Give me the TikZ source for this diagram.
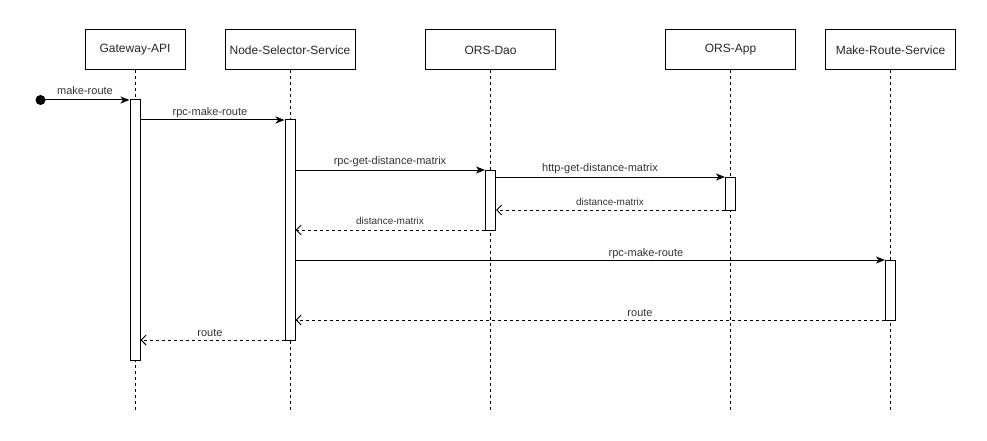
\documentclass[tikz,border=0pt]{standalone}
\usepackage{fontspec}
\setmainfont{Liberation Sans}
\usetikzlibrary{arrows.meta}
\begin{document}
\begin{tikzpicture}[x=1pt,y=-1pt,
  participant/.style={draw,line width=1pt,minimum height=40pt,inner sep=0pt,font=\fontsize{12}{14}\selectfont,text=black!85},
  actbox/.style={draw,line width=1pt,fill=white,minimum width=10pt,inner sep=0pt},
  lifeline/.style={line width=0.9pt,dash pattern=on 3pt off 3pt},
  callmsg/.style={line width=1pt,-{Stealth[length=9pt,width=7pt,inset=2.5pt]}},
  retmsg/.style={line width=0.9pt,dash pattern=on 3pt off 3pt,-{Straight Barb[length=5pt,width=10pt]}},
  msglbl/.style={font=\fontsize{11}{13}\selectfont,text=black!80},
  smalllbl/.style={font=\fontsize{10}{12}\selectfont,text=black!80}]
\useasboundingbox (0,0) rectangle (987,441);
% participants
\node[participant,minimum width=100pt] (gw) at (135,50) {Gateway-API};
\node[participant,minimum width=130pt] (ns) at (290,50) {Node-Selector-Service};
\node[participant,minimum width=130pt] (dao) at (490.5,50) {ORS-Dao};
\node[participant,minimum width=130pt] (app) at (730.5,50) {ORS-App};
\node[participant,minimum width=130pt] (mr) at (890.5,50) {Make-Route-Service};
% lifeline ends
\coordinate (gwE) at (135,410);
\coordinate (nsE) at (290,410);
\coordinate (daoE) at (490.5,410);
\coordinate (appE) at (730.5,410);
\coordinate (mrE) at (890.5,410);
\draw[lifeline] (gw.south) -- (gwE);
\draw[lifeline] (ns.south) -- (nsE);
\draw[lifeline] (dao.south) -- (daoE);
\draw[lifeline] (app.south) -- (appE);
\draw[lifeline] (mr.south) -- (mrE);
% activation boxes
\node[actbox,minimum height=260pt] (gwA) at (135,230) {};
\node[actbox,minimum height=220pt] (nsA) at (290,230) {};
\node[actbox,minimum height=60pt] (daoA) at (490.5,200) {};
\node[actbox,minimum height=33pt] (appA) at (730.5,193.5) {};
\node[actbox,minimum height=60pt] (mrA) at (890.5,290) {};
% start dot
\node[circle,fill=black,minimum size=10pt,inner sep=0pt] (start) at (40.5,100) {};
% messages
\draw[callmsg] (start.center) -- (gwA.west |- 0,100);
\node[msglbl,anchor=base] (l1) at (85,95) {make-route};
\draw[callmsg] (gwA.east |- 0,120) -- (nsA.west |- 0,120);
\node[msglbl,anchor=base] (l2) at (210,116) {rpc-make-route};
\draw[callmsg] (nsA.east |- 0,170) -- (daoA.west |- 0,170);
\node[msglbl,anchor=base] (l3) at (390,164.5) {rpc-get-distance-matrix};
\draw[callmsg] (daoA.east |- 0,177) -- (appA.west |- 0,177);
\node[msglbl,anchor=base] (l4) at (600,171.5) {http-get-distance-matrix};
\draw[retmsg] (appA.west |- 0,210) -- (daoA.east |- 0,210);
\node[smalllbl,anchor=base] (l5) at (610,205) {distance-matrix};
\draw[retmsg] (daoA.west |- 0,230) -- (nsA.east |- 0,230);
\node[smalllbl,anchor=base] (l6) at (390,224) {distance-matrix};
\draw[callmsg] (nsA.east |- 0,260) -- (mrA.west |- 0,260);
\node[msglbl,anchor=base] (l7) at (646,256.5) {rpc-make-route};
\draw[retmsg] (mrA.west |- 0,320) -- (nsA.east |- 0,320);
\node[msglbl,anchor=base] (l8) at (640,316.5) {route};
\draw[retmsg] (nsA.west |- 0,340) -- (gwA.east |- 0,340);
\node[msglbl,anchor=base] (l9) at (210,336.5) {route};
\end{tikzpicture}
\end{document}
